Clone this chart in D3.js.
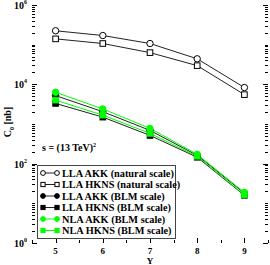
<!DOCTYPE html>
<html>
<head>
<meta charset="utf-8">
<script src="https://cdn.jsdelivr.net/npm/d3@7"></script>
<style>
  body { margin: 0; background: #fff; }
  text { font-family: "Liberation Serif", "Times New Roman", serif; }
</style>
</head>
<body>
<svg id="chart" width="270" height="265"></svg>
<script>
// rapidity values
var rapidity = [5, 6, 7, 8, 9];
// C0 in nb
var llaAkkNatural  = [224000, 170000, 107000, 44000, 8300];
var llaHknsNatural = [140000, 107000, 63000, 29600, 5500];
var llaAkkBlm      = [5200, 2040, 690, 162, 18];
var llaHknsBlm     = [3300, 1490, 515, 145, 15.9];
var nlaAkkBlm      = [6300, 2400, 776, 172, 18.8];
var nlaHknsBlm     = [4000, 1670, 580, 154, 16.3];
var xTicks = [5, 6, 7, 8, 9];
var yLabelExps = [0, 2, 4, 6];

var series = [
  {name: "LLA AKK (natural scale)",  values: llaAkkNatural,  symbol: "circle", fill: "#fff",    color: "#000"},
  {name: "LLA HKNS (natural scale)", values: llaHknsNatural, symbol: "square", fill: "#fff",    color: "#000"},
  {name: "LLA AKK (BLM scale)",      values: llaAkkBlm,      symbol: "circle", fill: "#000",    color: "#000"},
  {name: "LLA HKNS (BLM scale)",     values: llaHknsBlm,     symbol: "square", fill: "#000",    color: "#000"},
  {name: "NLA AKK (BLM scale)",      values: nlaAkkBlm,      symbol: "circle", fill: "#00ff00", color: "#00ff00"},
  {name: "NLA HKNS (BLM scale)",     values: nlaHknsBlm,     symbol: "square", fill: "#00ff00", color: "#00ff00"}
];

var svg = d3.select("#chart");
var MARGINS = {top: 5, right: 2, bottom: 22, left: 32};
var WIDTH = 270, HEIGHT = 265;

var x = d3.scaleLinear().domain([4.5, 9.5]).range([MARGINS.left, WIDTH - MARGINS.right]);
var y = d3.scaleLog().domain([1, 1e6]).range([HEIGHT - MARGINS.bottom, MARGINS.top]);

var left = x.range()[0], right = x.range()[1], top = y.range()[1], bottom = y.range()[0];

// ticks
var g = svg.append("g").attr("stroke", "#000").attr("stroke-width", 1);
var xMinor = d3.range(4.5, 9.6, 0.5);
xMinor.forEach(function (v) {
  var len = (v % 1 === 0) ? 5 : 3;
  var px = Math.round(x(v)) + 0.5;
  g.append("line").attr("x1", px).attr("x2", px).attr("y1", bottom).attr("y2", bottom - len);
  g.append("line").attr("x1", px).attr("x2", px).attr("y1", top).attr("y2", top + len);
});
var yTickVals = [];
for (var e = 0; e < 6; e++) {
  for (var m = 1; m < 10; m++) yTickVals.push(m * Math.pow(10, e));
}
yTickVals.push(1e6);
yTickVals.forEach(function (v) {
  var ex = Math.log10(v);
  var len = (Math.abs(ex - Math.round(ex)) < 1e-9 && Math.round(ex) % 2 === 0) ? 5 : 3;
  var py = Math.round(y(v)) + 0.5;
  g.append("line").attr("x1", left).attr("x2", left + len).attr("y1", py).attr("y2", py);
  g.append("line").attr("x1", right).attr("x2", right - len).attr("y1", py).attr("y2", py);
});

// frame
svg.append("rect")
  .attr("x", left + 0.5).attr("y", top + 0.5)
  .attr("width", right - left - 1).attr("height", bottom - top - 1)
  .attr("fill", "none").attr("stroke", "#555").attr("stroke-width", 1.5);

// tick labels
svg.selectAll(".xl").data(xTicks).enter().append("text")
  .attr("x", function (d) { return x(d); })
  .attr("y", bottom + 11)
  .attr("text-anchor", "middle")
  .attr("font-size", 9).attr("font-weight", "bold")
  .text(function (d) { return d; });

yLabelExps.forEach(function (ex) {
  var t = svg.append("text")
    .attr("x", left - 5).attr("y", y(Math.pow(10, ex)) + 4)
    .attr("text-anchor", "end")
    .attr("font-size", 10).attr("font-weight", "bold");
  t.append("tspan").text("10");
  t.append("tspan").attr("font-size", 6).attr("dy", -5).text(ex);
});

// axis titles
svg.append("text")
  .attr("x", (left + right) / 2).attr("y", HEIGHT - 1.5)
  .attr("text-anchor", "middle").attr("font-size", 9).attr("font-weight", "bold")
  .text("Y");

var yt = svg.append("text")
  .attr("transform", "translate(11,122) rotate(-90)")
  .attr("text-anchor", "middle").attr("font-size", 10).attr("font-weight", "bold");
yt.append("tspan").text("C");
yt.append("tspan").attr("font-size", 6).attr("dy", 3).text("0");
yt.append("tspan").attr("dy", -3).text(" [nb]");

var st = svg.append("text")
  .attr("x", 42).attr("y", 151)
  .attr("font-size", 10).attr("font-weight", "bold");
st.append("tspan").text("s = (13 TeV)");
st.append("tspan").attr("font-size", 6).attr("dy", -4).text("2");

// lines and markers
var lineFunc = d3.line()
  .x(function (d, i) { return x(rapidity[i]); })
  .y(function (d) { return y(d); });

function drawSymbol(sel, s, cx, cy, k) {
  if (s.symbol === "circle") {
    sel.append("circle").attr("cx", cx).attr("cy", cy).attr("r", 3.2 * k)
      .attr("fill", s.fill).attr("stroke", s.color).attr("stroke-width", 1);
  } else {
    sel.append("rect").attr("x", cx - 2.8 * k).attr("y", cy - 2.8 * k)
      .attr("width", 5.6 * k).attr("height", 5.6 * k)
      .attr("fill", s.fill).attr("stroke", s.color).attr("stroke-width", 1);
  }
}

var plot = svg.append("g");
series.forEach(function (s) {
  plot.append("path")
    .attr("d", lineFunc(s.values))
    .attr("fill", "none")
    .attr("stroke", s.color === "#000" ? "#222" : s.color)
    .attr("stroke-width", 1);
});
series.forEach(function (s) {
  s.values.forEach(function (v, i) {
    drawSymbol(plot, s, x(rapidity[i]), y(v), 1);
  });
});

// legend
var lg = svg.append("g");
lg.append("rect")
  .attr("x", 37.5).attr("y", 165.5).attr("width", 138).attr("height", 73)
  .attr("fill", "#fff").attr("stroke", "#444").attr("stroke-width", 1);
series.forEach(function (s, i) {
  var ly = 173 + i * 11.5;
  lg.append("line").attr("x1", 43).attr("x2", 57).attr("y1", ly).attr("y2", ly)
    .attr("stroke", s.color === "#000" ? "#222" : s.color).attr("stroke-width", 1);
  drawSymbol(lg, s, 43, ly, 0.75);
  drawSymbol(lg, s, 57, ly, 0.75);
  lg.append("text").attr("x", 62).attr("y", ly + 3.5)
    .attr("font-size", 10.3).attr("font-weight", "bold")
    .text(s.name);
});
</script>
</body>
</html>
